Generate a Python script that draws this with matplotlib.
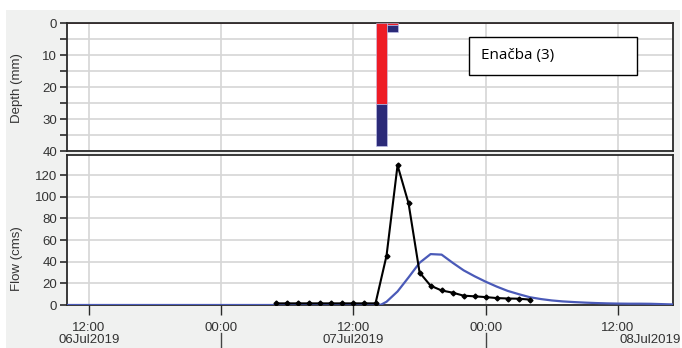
import matplotlib
matplotlib.use("Agg")
import matplotlib.pyplot as plt
from matplotlib.patches import Rectangle

# ---- data (hours since 06Jul2019 00:00) ----
rain_hours = [38, 39]
rain_loss = [25.2, 0.7]      # red part (mm)
rain_excess = [13.0, 2.1]    # blue part (mm)

obs_hours = [29, 30, 31, 32, 33, 34, 35, 36, 37, 38, 39, 40, 41, 42, 43, 44, 45,
             46, 47, 48, 49, 50, 51, 52]
obs_flow = [1.5, 1.5, 1.5, 1.5, 1.5, 1.5, 1.5, 1.5, 1.5, 1.5, 45.5, 129, 93.8, 30.0,
            17.8, 13.4, 11.4, 8.6, 8.0, 7.3, 6.4, 6.0, 5.8, 5.0]

sim_hours = [10, 38, 38.5, 39, 40, 41, 42, 43, 44, 45, 46, 47, 48, 49, 50, 51, 52,
             53, 54, 55, 56, 57, 58, 59, 60, 61, 62, 63, 64, 65]
sim_flow = [0, 0, 0.3, 3, 12.5, 25.5, 39, 47, 46.5, 39, 32, 26.5, 21.5, 17, 13, 10,
            7.2, 5.5, 4.2, 3.3, 2.7, 2.2, 1.8, 1.5, 1.3, 1.2, 1.2, 1.1, 0.8, 0.5]

time_ticks = [12, 24, 36, 48, 60]
time_labels = ["12:00", "00:00", "12:00", "00:00", "12:00"]
date_pos = [12, 36, 60]
date_labels = ["06Jul2019", "07Jul2019", "08Jul2019"]
depth_ticks = [0, 10, 20, 30, 40]
flow_ticks = [0, 20, 40, 60, 80, 100, 120]

W, H = 682, 348
plt.rcParams['font.family'] = ['Liberation Sans', 'DejaVu Sans']
txt = '#333333'
grid_c = '#d6d6d6'
spine_c = '#2a2a2a'

fig = plt.figure(figsize=(W / 100, H / 100), dpi=100)
fig.patch.set_facecolor('white')
fig.add_artist(Rectangle((6 / W, 0), 674 / W, 1 - 10 / H, transform=fig.transFigure,
                         facecolor='#f0f1f0', edgecolor='none', zorder=-10))

def fx(px):
    return px / W

def fy(py):
    return 1 - py / H

L, R = 67, 673
ax1 = fig.add_axes([fx(L), fy(151.5), fx(R - L), (151.5 - 23) / H])
ax2 = fig.add_axes([fx(L), fy(305), fx(R - L), (305 - 155) / H])

for ax in (ax1, ax2):
    ax.set_facecolor('white')
    ax.set_xlim(10, 65)
    for s in ax.spines.values():
        s.set_color(spine_c)
        s.set_linewidth(1.3)
    ax.set_xticks(time_ticks)
    ax.grid(True, which='both', color=grid_c, linewidth=1.2)
    ax.set_axisbelow(True)
    ax.tick_params(axis='y', colors=spine_c, labelcolor=txt, labelsize=9.5,
                   length=5, width=1.2, pad=2)
    ax.tick_params(axis='y', which='minor', colors=spine_c, length=5, width=1.2)

# ---- top: precipitation ----
ax1.set_ylim(40, 0)
ax1.set_yticks(depth_ticks)
ax1.set_yticks([5, 15, 25, 35], minor=True)
ax1.tick_params(axis='x', length=0, labelbottom=False)
ax1.axhline(0, color='#b03040', lw=1.2, zorder=2)
ax1.bar(rain_hours, rain_loss, width=1, align='edge', color='#ee1c25',
        edgecolor='#c8c8f0', linewidth=0.4, zorder=3)
ax1.bar(rain_hours, rain_excess, width=1, align='edge', bottom=rain_loss,
        color='#2b2a78', edgecolor='#c8c8f0', linewidth=0.4, zorder=3)
ax1.set_xticklabels([])

# legend-like box
fig.add_artist(Rectangle((fx(469), fy(75)), fx(168), (75 - 37.3) / H,
                         transform=fig.transFigure, facecolor='white',
                         edgecolor='black', linewidth=1.0, zorder=5))
fig.text(fx(481), fy(56), "Enačba (3)", fontsize=11, va='center', ha='left',
         family=['Open Sans', 'DejaVu Sans'], color='black', zorder=6)

# ---- bottom: flow ----
ax2.set_ylim(0, 138.5)
ax2.set_yticks(flow_ticks)
ax2.plot(sim_hours, sim_flow, color='#4a5ab8', lw=1.6, zorder=3)
ax2.plot(obs_hours, obs_flow, color='black', lw=1.5, marker='D', markersize=2.5,
         zorder=4)
ax2.axhline(0.3, color='#a52a2a', lw=1.0, ls=(0, (4, 3)), zorder=2)
ax2.set_xticklabels(time_labels)
ax2.tick_params(axis='x', colors=spine_c, labelcolor=txt, labelsize=9.5,
                length=7, width=1.0, pad=5)

for p, lab in zip(date_pos, date_labels):
    if p == date_pos[-1]:
        fig.text(fx(681), fy(340), lab, fontsize=9.5, color=txt, ha='right',
                 va='center')
    else:
        ax2.text(p, -32.0, lab, fontsize=9.5, color=txt, ha='center', va='center',
                 clip_on=False)
for p in [24, 48]:
    ax2.plot([p, p], [-26, -39.5], color='#444444', lw=1.0, clip_on=False)

fig.text(fx(17), fy(88), "Depth (mm)", rotation=90, fontsize=9.5, color=txt,
         ha='center', va='center')
fig.text(fx(17), fy(259), "Flow (cms)", rotation=90, fontsize=9.5, color=txt,
         ha='center', va='center')

fig.savefig("out.png", dpi=100, facecolor=fig.get_facecolor())
